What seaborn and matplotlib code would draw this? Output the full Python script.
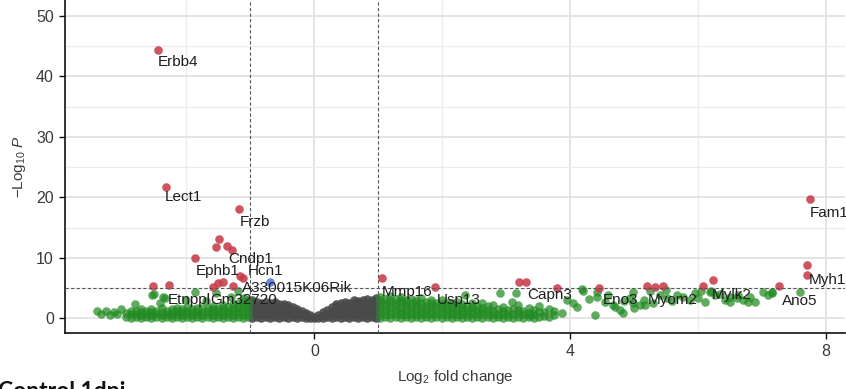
import numpy as np
import pandas as pd
import matplotlib
matplotlib.use("Agg")
import matplotlib.pyplot as plt
import seaborn as sns

# ---------------- data ----------------
# significant (red): |log2FC| > 1 and -log10 P > 5
red_x = [-2.45, -2.32, -1.18, -1.49, -1.54, -1.36, -1.29, -1.87, -1.17, -1.12,
         -1.43, -1.50, -1.59, -1.27, -2.52, -2.27, 1.06, 1.89, 3.20, 3.31,
         3.80, 4.45, 5.20, 5.33, 5.46, 6.08, 6.24, 7.27, 7.71, 7.71, 7.75]
red_y = [44.4, 21.7, 18.1, 13.1, 11.8, 12.0, 11.3, 10.0, 7.0, 6.7,
         6.0, 5.9, 5.2, 5.4, 5.3, 5.5, 6.7, 5.2, 6.1, 6.1,
         5.1, 5.1, 5.3, 5.2, 5.3, 5.3, 6.3, 5.3, 8.8, 7.2, 19.8]

# p-value only (blue)
blue_x = [-0.70]
blue_y = [6.0]

# not significant (grey), column x positions and the -log10 P values in each column
grey_cols_x = [-0.97, -0.90, -0.83, -0.76, -0.69, -0.62, -0.55, -0.48, -0.41, -0.34,
               -0.27, -0.20, -0.13, -0.06, 0.00, 0.06, 0.13, 0.20, 0.27, 0.34,
               0.41, 0.48, 0.55, 0.62, 0.69, 0.76, 0.83, 0.90, 0.97]
grey_cols_y = [[0.1, 0.7, 1.3, 1.9, 2.5, 3.0], [0.2, 0.8, 1.4, 2.0, 2.7], [0.1, 0.7, 1.3, 1.9, 2.6],
               [0.2, 0.8, 1.4, 2.1, 2.8], [0.1, 0.7, 1.3, 1.9, 2.5], [0.2, 0.8, 1.4, 2.0, 2.7],
               [0.1, 0.7, 1.3, 1.9, 2.4], [0.2, 0.8, 1.4, 2.0, 2.4], [0.1, 0.7, 1.3, 1.8, 2.2],
               [0.2, 0.8, 1.4, 1.9], [0.1, 0.7, 1.2, 1.6], [0.2, 0.7, 1.2], [0.1, 0.6, 0.9],
               [0.1, 0.5], [0.05, 0.2], [0.1, 0.5], [0.1, 0.6, 1.0], [0.2, 0.8, 1.4],
               [0.1, 0.7, 1.3, 1.9], [0.2, 0.8, 1.4, 2.0, 2.4], [0.1, 0.7, 1.3, 1.9, 2.6],
               [0.2, 0.8, 1.4, 2.0, 2.7], [0.1, 0.7, 1.3, 1.9, 2.5], [0.2, 0.8, 1.4, 2.0, 2.6, 3.0],
               [0.1, 0.7, 1.3, 1.9, 2.5, 2.9], [0.2, 0.8, 1.4, 2.0, 2.6, 3.1],
               [0.1, 0.7, 1.3, 1.9, 2.5, 3.2], [0.2, 0.8, 1.4, 2.0, 2.6, 3.1],
               [0.1, 0.7, 1.3, 1.9, 2.5, 3.3]]

# fold-change only (green), dense left band
greenL_cols_x = [-2.95, -2.87, -2.79, -2.71, -2.63, -2.55, -2.47, -2.39, -2.31, -2.23,
                 -2.15, -2.07, -1.99, -1.91, -1.83, -1.75, -1.67, -1.59, -1.51, -1.43,
                 -1.35, -1.27, -1.19, -1.11, -1.03]
greenL_cols_y = [[0.3, 0.9], [0.1, 0.7, 1.3], [0.2, 0.8, 1.2], [0.1, 0.6, 1.1, 1.5],
                 [0.2, 0.7, 1.2], [0.1, 0.6, 1.1, 1.6], [0.2, 0.7, 1.3], [0.1, 0.6, 1.1, 1.7],
                 [0.2, 0.8, 1.3], [0.1, 0.6, 1.1, 1.6], [0.2, 0.7, 1.2, 1.8], [0.1, 0.6, 1.1, 1.5],
                 [0.2, 0.7, 1.3, 1.9], [0.1, 0.6, 1.1, 1.6], [0.2, 0.8, 1.3, 1.8],
                 [0.1, 0.6, 1.1, 1.7], [0.2, 0.7, 1.2, 1.8], [0.1, 0.6, 1.1, 1.6, 2.1],
                 [0.2, 0.7, 1.3, 1.8], [0.1, 0.6, 1.1, 1.7, 2.2], [0.2, 0.8, 1.3, 1.9],
                 [0.1, 0.6, 1.2, 1.8, 2.4], [0.2, 0.7, 1.3, 1.9, 2.5],
                 [0.1, 0.6, 1.2, 1.8, 2.4, 2.9], [0.2, 0.8, 1.4, 2.0, 2.6, 3.1]]
# sparse left green points
greenL_x = [-3.40, -3.33, -3.26, -3.20, -3.14, -3.08, -3.02, -2.81, -2.50, -2.34,
            -1.87, -2.42, -2.54, -2.37, -1.53, -1.30, -1.20, -2.00, -1.70, -1.10]
greenL_y = [1.2, 0.8, 1.3, 0.6, 1.1, 0.7, 1.5, 2.4, 4.0, 3.4,
            4.4, 2.5, 3.9, 3.6, 4.2, 3.5, 4.6, 3.0, 2.9, 3.3]

# dense right band
greenR_cols_x = [1.03, 1.11, 1.19, 1.27, 1.35, 1.43, 1.51, 1.59, 1.67, 1.75,
                 1.83, 1.91, 1.99, 2.07, 2.15, 2.23, 2.31, 2.39, 2.47, 2.55,
                 2.63, 2.71, 2.79, 2.87, 2.95, 3.03, 3.11, 3.19, 3.27, 3.35,
                 3.43, 3.51, 3.59, 3.67, 3.75]
greenR_cols_y = [[0.1, 0.7, 1.3, 1.9, 2.5, 3.1, 3.6], [0.2, 0.8, 1.4, 2.0, 2.6, 3.2],
                 [0.1, 0.7, 1.3, 1.9, 2.5, 3.1, 3.7], [0.2, 0.8, 1.4, 2.0, 2.6, 3.2],
                 [0.1, 0.7, 1.3, 1.9, 2.5, 3.0, 3.5], [0.2, 0.8, 1.4, 2.0, 2.6, 3.1],
                 [0.1, 0.7, 1.3, 1.9, 2.5, 3.2], [0.2, 0.8, 1.4, 2.0, 2.6, 3.0],
                 [0.1, 0.7, 1.3, 1.9, 2.5, 3.3], [0.2, 0.8, 1.4, 2.0, 2.7],
                 [0.1, 0.7, 1.3, 1.9, 2.5, 3.1], [0.2, 0.8, 1.4, 2.0, 2.6],
                 [0.1, 0.7, 1.3, 1.9, 2.4, 3.0], [0.2, 0.8, 1.4, 2.0, 2.6],
                 [0.1, 0.7, 1.3, 1.9, 2.5], [0.2, 0.8, 1.4, 2.0, 2.8],
                 [0.1, 0.7, 1.3, 1.9, 2.4], [0.2, 0.8, 1.4, 2.1],
                 [0.1, 0.7, 1.3, 1.9, 2.6], [0.2, 0.8, 1.4, 2.0],
                 [0.1, 0.7, 1.3, 1.8, 2.5], [0.2, 0.8, 1.4, 2.0],
                 [0.1, 0.7, 1.3, 2.2], [0.2, 0.8, 1.5], [0.1, 0.7, 1.3, 1.9],
                 [0.2, 0.8, 1.4], [0.1, 0.7, 1.6], [0.2, 0.9, 1.4, 2.3], [0.1, 0.7, 1.2],
                 [0.3, 0.9, 1.8], [0.1, 0.8, 1.4], [0.2, 1.0, 2.1], [0.4, 1.1],
                 [0.2, 1.5], [0.5, 1.2]]
# sparse right green points
greenR_x = [2.36, 2.90, 3.09, 3.15, 3.87, 4.20, 4.39, 4.42, 4.70, 4.11,
            3.37, 4.19, 4.42, 4.67, 4.78, 4.94, 4.99, 5.09, 5.52, 5.67,
            5.77, 5.88, 6.11, 6.27, 6.43, 6.61, 6.82, 6.90, 7.02, 7.16,
            3.95, 4.05, 4.30, 4.55, 4.60, 4.85, 5.00, 5.15, 5.30, 5.40,
            5.60, 5.95, 6.00, 6.20, 6.35, 6.50, 6.70, 7.10, 5.25, 5.50,
            6.05, 7.60, 4.83, 4.98, 5.17, 6.19, 6.50, 6.63, 6.79, 7.16]
greenR_y = [3.9, 4.2, 2.7, 4.2, 0.9, 4.6, 0.6, 4.4, 1.9, 1.9,
            0.6, 4.8, 3.6, 2.2, 1.4, 3.4, 4.4, 2.2, 3.4, 3.9,
            3.6, 3.1, 2.8, 3.9, 3.1, 3.4, 3.6, 2.8, 4.4, 4.4,
            3.0, 2.5, 3.2, 2.8, 3.9, 2.9, 1.8, 3.0, 2.6, 3.8,
            2.9, 4.2, 3.3, 4.5, 4.1, 3.6, 3.0, 3.8, 4.6, 4.7,
            4.6, 4.3, 0.9, 2.5, 2.3, 4.4, 2.7, 3.9, 2.7, 4.2]

# gene labels: name, text anchor (left edge, vertical centre) in data units
gene_names = ["Erbb4", "Lect1", "Frzb", "Cndp1", "Ephb1", "Hcn1", "A330015K06Rik",
              "Etnppl", "Gm32720", "Mmp16", "Usp13", "Capn3", "Eno3", "Myom2",
              "Mylk2", "Ano5", "Myh1", "Fam180a"]
gene_lab_x = [-2.45, -2.34, -1.17, -1.35, -1.85, -1.04, -1.13, -2.29, -1.62, 1.06,
              1.92, 3.33, 4.51, 5.22, 6.22, 7.32, 7.74, 7.75]
gene_lab_y = [42.4, 20.1, 16.0, 9.8, 7.9, 7.9, 5.0, 3.1, 3.1, 4.4,
              3.1, 3.9, 3.1, 3.1, 3.9, 2.9, 6.4, 17.4]

FC_CUT = 1.0
P_CUT = 5.0

# ---------------- build table ----------------
rows = []
for cx, ys in zip(grey_cols_x, grey_cols_y):
    rows += [(cx, v, "NS") for v in ys]
for cx, ys in zip(greenL_cols_x, greenL_cols_y):
    rows += [(cx, v, "FC") for v in ys]
rows += [(a, b, "FC") for a, b in zip(greenL_x, greenL_y)]
for cx, ys in zip(greenR_cols_x, greenR_cols_y):
    rows += [(cx, v, "FC") for v in ys]
rows += [(a, b, "FC") for a, b in zip(greenR_x, greenR_y)]
rows += [(a, b, "P") for a, b in zip(blue_x, blue_y)]
rows += [(a, b, "FC_P") for a, b in zip(red_x, red_y)]
df = pd.DataFrame(rows, columns=["log2fc", "nlog10p", "group"])

# ---------------- plot ----------------
sns.set_theme(style="white")
plt.rcParams["font.family"] = ["Liberation Sans", "DejaVu Sans"]
plt.rcParams["mathtext.fontset"] = "custom"
plt.rcParams["mathtext.rm"] = "Liberation Sans"
plt.rcParams["mathtext.it"] = "Liberation Sans:italic"

fig = plt.figure(figsize=(8.46, 3.89), dpi=100)
ax = fig.add_axes([0.0768, 0.144, 0.922, 0.856])

styles = {"NS": ("#4a4a4a", 0.9), "FC": ("#228b22", 0.72),
          "P": ("#4169e1", 0.8), "FC_P": ("#c83c4a", 0.88)}
for g, z in [("NS", 2), ("FC", 3), ("P", 4), ("FC_P", 5)]:
    col, al = styles[g]
    sns.scatterplot(data=df[df.group == g], x="log2fc", y="nlog10p", color=col,
                    alpha=al, s=38, linewidth=0, ax=ax, legend=False, zorder=z)

for xv in (-FC_CUT, FC_CUT):
    ax.axvline(xv, color="#555555", lw=0.8, ls=(0, (3, 2)), zorder=6)
ax.axhline(P_CUT, color="#555555", lw=0.8, ls=(0, (3, 2)), zorder=6)

for name, tx, ty in zip(gene_names, gene_lab_x, gene_lab_y):
    ax.text(tx, ty, name, fontsize=11, color="#1e1e1e", ha="left", va="center",
            zorder=7, clip_on=False)

ax.set_xlim(-3.9, 8.3)
ax.set_ylim(-2.4, 52.6)
ax.set_xticks([0, 4, 8])
ax.set_xticks([-2, 2, 6], minor=True)
ax.set_yticks([0, 10, 20, 30, 40, 50])
ax.set_yticks([5, 15, 25, 35, 45], minor=True)
ax.grid(which="major", color="#e2e2e2", lw=1.3, zorder=0)
ax.grid(which="minor", color="#ececec", lw=0.9, zorder=0)
ax.set_axisbelow(True)

for s in ("top", "right"):
    ax.spines[s].set_visible(False)
for s in ("left", "bottom"):
    ax.spines[s].set_color("#111111")
    ax.spines[s].set_linewidth(1.2)

ax.tick_params(which="major", length=4, width=1, color="#111111",
               labelsize=11.5, labelcolor="#3a3a3a", pad=4, bottom=True, left=True)
ax.tick_params(which="minor", length=0)

ax.set_xlabel(r"$\mathrm{Log}_{2}$ fold change", fontsize=11, color="#3a3a3a")
ax.xaxis.set_label_coords(0.5, -0.105)
ax.set_ylabel(r"$-\mathrm{Log}_{10}\ \mathit{P}$", fontsize=11, color="#3a3a3a")
ax.yaxis.set_label_coords(-0.047, 0.5)

fig.text(-0.002, -0.022, "Control 1dpi", fontsize=16.5, fontweight="bold",
         family=["Lato", "DejaVu Sans"], color="#111111", ha="left", va="baseline")

fig.savefig("out.png", dpi=100)
